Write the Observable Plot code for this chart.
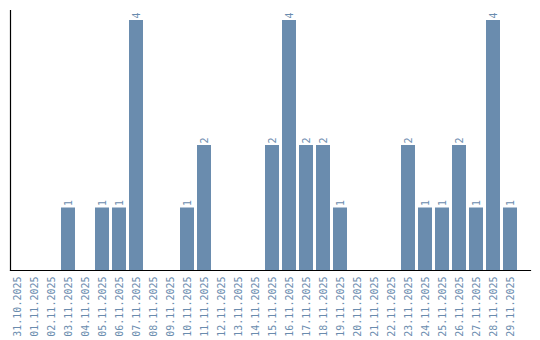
<!DOCTYPE html>
<html>
<head>
<meta charset="utf-8">
<script src="https://cdn.jsdelivr.net/npm/d3@7"></script>
<script src="https://cdn.jsdelivr.net/npm/@observablehq/plot@0.6"></script>
<style>
  html, body { margin: 0; padding: 0; background: #fff; }
  #chart svg { display: block; }
</style>
</head>
<body>
<div id="chart"></div>
<script>
const dates = ["31.10.2025","01.11.2025","02.11.2025","03.11.2025","04.11.2025","05.11.2025","06.11.2025","07.11.2025","08.11.2025","09.11.2025","10.11.2025","11.11.2025","12.11.2025","13.11.2025","14.11.2025","15.11.2025","16.11.2025","17.11.2025","18.11.2025","19.11.2025","20.11.2025","21.11.2025","22.11.2025","23.11.2025","24.11.2025","25.11.2025","26.11.2025","27.11.2025","28.11.2025","29.11.2025"];
const counts = [0,0,0,1,0,1,1,4,0,0,1,2,0,0,0,2,4,2,2,1,0,0,0,2,1,1,2,1,4,1];

const data = dates.map((d, i) => ({date: d, count: counts[i]}));
const color = "#6a8cae";
const font = "DejaVu Sans Mono, monospace";

const chart = Plot.plot({
  width: 540,
  height: 340,
  marginLeft: 10,
  marginRight: 10,
  marginTop: 10,
  marginBottom: 70,
  style: {fontFamily: font, background: "#fff"},
  x: {domain: dates, paddingInner: 0.176, paddingOuter: 0.382, align: 0, axis: null},
  y: {domain: [0, 4.16], axis: null},
  marks: [
    Plot.barY(data, {x: "date", y: "count", fill: color}),
    Plot.text(data.filter(d => d.count > 0), {
      x: "date", y: "count", text: d => String(d.count),
      rotate: -90, textAnchor: "start", lineAnchor: "middle",
      dy: -2, fill: color, fontSize: 10, fontFamily: font
    }),
    Plot.text(data, {
      x: "date", y: () => 0, text: "date",
      rotate: -90, textAnchor: "end", lineAnchor: "middle",
      dy: 6, fill: color, fontSize: 10, fontFamily: font
    }),
    Plot.frame({anchor: "left", stroke: "#000", strokeWidth: 1.2}),
    Plot.frame({anchor: "bottom", stroke: "#000", strokeWidth: 1.2})
  ]
});
document.getElementById("chart").appendChild(chart);
</script>
</body>
</html>
